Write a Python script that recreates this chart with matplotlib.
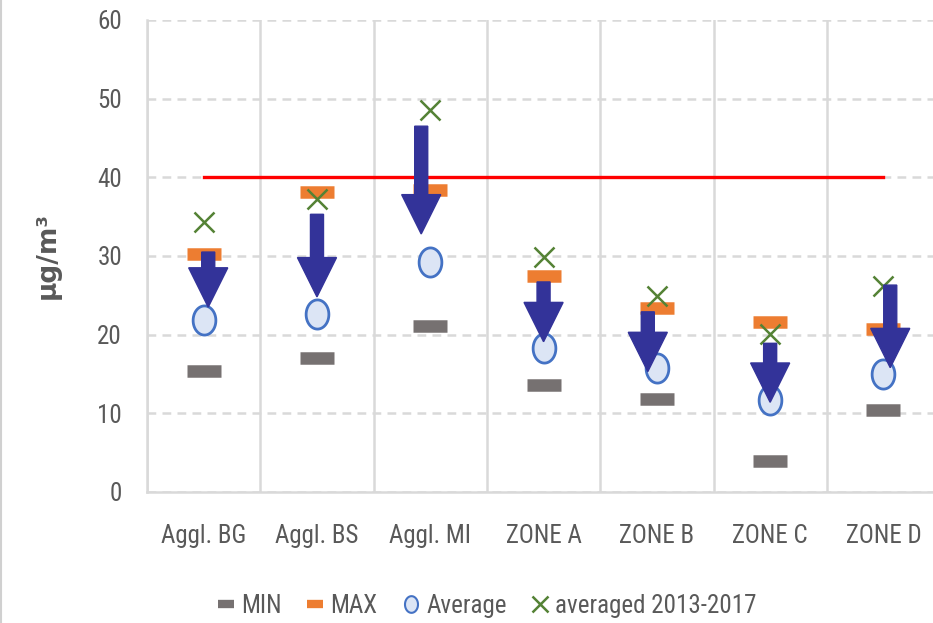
import numpy as np
import matplotlib
matplotlib.use('Agg')
import matplotlib.pyplot as plt
from matplotlib.path import Path
from matplotlib.lines import Line2D
from matplotlib import font_manager

names = {f.name for f in font_manager.fontManager.ttflist}
narrow = [n for n in ['Liberation Sans Narrow', 'Roboto Condensed', 'Open Sans Condensed',
                      'Lato'] if n in names]
plt.rcParams['font.family'] = narrow[:1] + ['DejaVu Sans']

cats = ['Aggl. BG', 'Aggl. BS', 'Aggl. MI', 'ZONE A', 'ZONE B', 'ZONE C', 'ZONE D']
min_vals = [15.4, 17.0, 21.1, 13.6, 11.8, 3.9, 10.4]
max_vals = [30.2, 38.1, 38.4, 27.4, 23.4, 21.6, 20.7]
avg_vals = [21.9, 22.6, 29.2, 18.3, 15.8, 11.7, 15.0]
avg1317 = [34.3, 37.2, 48.5, 29.9, 24.9, 20.1, 26.2]
# arrows drawn on top (from -> to)
arrow_from = [30.5, 35.3, 46.5, 26.7, 22.9, 18.9, 26.3]
arrow_to = [23.5, 24.8, 32.8, 19.1, 15.3, 11.4, 15.8]
arrow_dx = [0.04, 0.0, -0.08, 0.0, -0.08, 0.0, 0.06]
limit = 40

x = np.arange(len(cats))

fig = plt.figure(figsize=(9.33, 6.23), dpi=100)
ax = fig.add_axes([0.1576, 0.2103, 0.85, 0.7576])

grid_c = '#D9D9D9'
txt_c = '#595959'

# ellipse marker for the average
t = np.linspace(0, 2*np.pi, 60)
ell = Path(np.column_stack([0.78*np.cos(t), np.sin(t)]), closed=True)

ax.plot(x, [limit]*len(x), color='#FF0000', lw=2.4, zorder=2)

ax.plot(x, min_vals, ls='none', marker='_', ms=25, mew=9, color='#767171',
        label='MIN', zorder=3)
ax.plot(x, max_vals, ls='none', marker='_', ms=25, mew=9, color='#ED7D31',
        label='MAX', zorder=3)
ax.plot(x, avg_vals, ls='none', marker=ell, ms=21, mew=2, mec='#4472C4',
        mfc='#DCE5F5', label='Average', zorder=4)
ax.plot(x, avg1317, ls='none', marker='x', ms=15, mew=1.8, color='#548235',
        label='averaged 2013-2017', zorder=4)

for i in range(len(x)):
    ax.arrow(x[i] + arrow_dx[i], arrow_from[i], 0, arrow_to[i] - arrow_from[i],
             width=0.115, head_width=0.345, head_length=5.0,
             length_includes_head=True, color='#333399', zorder=5)

ax.set_xlim(-0.5, 6.5)
ax.set_ylim(0, 60)
ax.set_yticks(np.arange(0, 61, 10))
ax.set_xticks(x)
ax.set_xticklabels(cats)
ax.set_xticks(np.arange(-0.5, 7, 1), minor=True)

ax.grid(axis='y', which='major', color=grid_c, lw=1.8, ls=(0, (3.5, 2.5)))
ax.grid(axis='x', which='minor', color=grid_c, lw=1.8)
ax.set_axisbelow(True)

for s in ['top', 'right']:
    ax.spines[s].set_visible(False)
for s in ['left', 'bottom']:
    ax.spines[s].set_color(grid_c)
    ax.spines[s].set_linewidth(1.8)

ax.tick_params(axis='both', which='both', length=0, labelsize=18, colors=txt_c)
ax.tick_params(axis='y', pad=18)
ax.tick_params(axis='x', pad=23)

ax.set_ylabel('μg/m³', fontsize=19, fontweight='bold', color=txt_c,
              family=['DejaVu Sans'], labelpad=26)

handles, labels = ax.get_legend_handles_labels()
leg = fig.legend(handles, labels, loc='center', bbox_to_anchor=(0.522, 0.027), ncol=4,
                 frameon=False, fontsize=18, labelcolor=txt_c, handlelength=0.7,
                 handletextpad=0.25, columnspacing=1.0)
ms_leg = [11, 11, 12, 12]
mew_leg = [6, 6, 1.5, 1.8]
for h, m, w in zip(leg.legend_handles, ms_leg, mew_leg):
    h.set_markersize(m)
    h.set_markeredgewidth(w)

fig.add_artist(Line2D([0.0015, 0.0015], [0, 1], color='#D0D0D0', lw=1.5))

fig.savefig('out.png', dpi=100)
